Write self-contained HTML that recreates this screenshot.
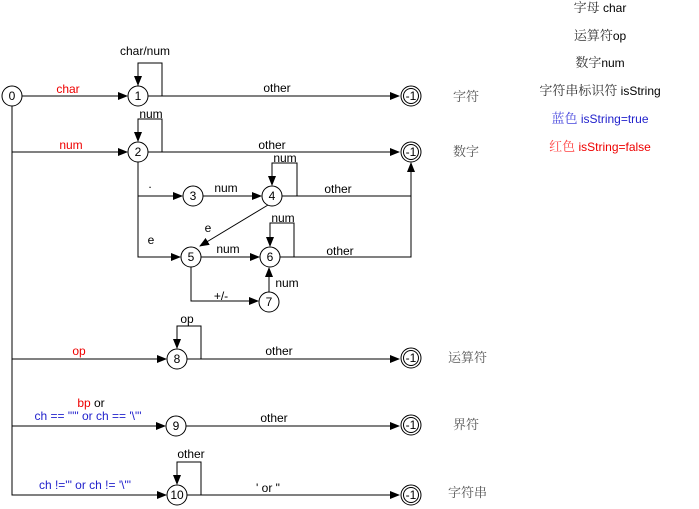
<!DOCTYPE html>
<html><head><meta charset="utf-8"><style>
html,body{margin:0;padding:0;background:#fff;width:699px;height:509px;overflow:hidden}
svg{display:block;font-family:"Liberation Sans","Noto Sans CJK SC",sans-serif;font-size:12px}
.c{fill:#fff;stroke:#000;stroke-width:1}
.l{fill:none;stroke:#000;stroke-width:1}
.cjk{font-family:"Noto Serif CJK SC","Noto Sans CJK SC",serif;fill:#555;font-size:13px}
</style></head><body>
<svg width="699" height="509">
<defs><marker id="a" markerWidth="10" markerHeight="8" refX="9" refY="4" orient="auto" markerUnits="userSpaceOnUse"><path d="M0,0 L10,4 L0,8 z" fill="#000"/></marker></defs>
<g>
<path class="l" d="M12,106 V495 H166" marker-end="url(#a)"/>
<path class="l" d="M22,96 H127" marker-end="url(#a)"/>
<path class="l" d="M12,152 H127" marker-end="url(#a)"/>
<path class="l" d="M12,359 H166" marker-end="url(#a)"/>
<path class="l" d="M12,426 H165" marker-end="url(#a)"/>
<path class="l" d="M148,96 H399" marker-end="url(#a)"/>
<path class="l" d="M148,152 H399" marker-end="url(#a)"/>
<path class="l" d="M187,359 H399" marker-end="url(#a)"/>
<path class="l" d="M186,426 H399" marker-end="url(#a)"/>
<path class="l" d="M187,495 H399" marker-end="url(#a)"/>
<path class="l" d="M138,87 V63 H162 V96" marker-end="url(#a)" style="marker-end:none"/>
<path class="l" d="M162,96 V63 H138 V85" marker-end="url(#a)"/>
<path class="l" d="M162,152 V119 H138 V141" marker-end="url(#a)"/>
<path class="l" d="M138,162 V196 H182" marker-end="url(#a)"/>
<path class="l" d="M138,196 V257 H180" marker-end="url(#a)"/>
<path class="l" d="M203,196 H261" marker-end="url(#a)"/>
<path class="l" d="M297,196 V163 H272 V185" marker-end="url(#a)"/>
<path class="l" d="M282,196 H411 V163" marker-end="url(#a)"/>
<path class="l" d="M268,205 L200,246" marker-end="url(#a)"/>
<path class="l" d="M201,257 H259" marker-end="url(#a)"/>
<path class="l" d="M294,257 V223 H270 V246" marker-end="url(#a)"/>
<path class="l" d="M280,257 H411 V196"/>
<path class="l" d="M191,267 V301 H258" marker-end="url(#a)"/>
<path class="l" d="M269,292 V268" marker-end="url(#a)"/>
<path class="l" d="M201,359 V326 H177 V348" marker-end="url(#a)"/>
<path class="l" d="M201,495 V462 H177 V484" marker-end="url(#a)"/>
</g>
<g text-anchor="middle">
<circle class="c" cx="12" cy="96" r="10"/><text x="12" y="100">0</text>
<circle class="c" cx="138" cy="96" r="10"/><text x="138" y="100">1</text>
<circle class="c" cx="138" cy="152" r="10"/><text x="138" y="156">2</text>
<circle class="c" cx="193" cy="196" r="10"/><text x="193" y="200">3</text>
<circle class="c" cx="272" cy="196" r="10"/><text x="272" y="200">4</text>
<circle class="c" cx="191" cy="257" r="10"/><text x="191" y="261">5</text>
<circle class="c" cx="270" cy="257" r="10"/><text x="270" y="261">6</text>
<circle class="c" cx="269" cy="302" r="10"/><text x="269" y="306">7</text>
<circle class="c" cx="177" cy="359" r="10"/><text x="177" y="363">8</text>
<circle class="c" cx="176" cy="426" r="10"/><text x="176" y="430">9</text>
<circle class="c" cx="177" cy="495" r="10"/><text x="177" y="499">10</text>
<g>
<circle class="c" cx="411" cy="96" r="10"/><circle class="c" cx="411" cy="96" r="7.5"/><text x="411" y="100">-1</text>
<circle class="c" cx="411" cy="152" r="10"/><circle class="c" cx="411" cy="152" r="7.5"/><text x="411" y="156">-1</text>
<circle class="c" cx="411" cy="358" r="10"/><circle class="c" cx="411" cy="358" r="7.5"/><text x="411" y="362">-1</text>
<circle class="c" cx="411" cy="425" r="10"/><circle class="c" cx="411" cy="425" r="7.5"/><text x="411" y="429">-1</text>
<circle class="c" cx="411" cy="495" r="10"/><circle class="c" cx="411" cy="495" r="7.5"/><text x="411" y="499">-1</text>
</g>
</g>
<g text-anchor="middle">
<text x="68" y="93" fill="#e00">char</text>
<text x="71" y="149" fill="#e00">num</text>
<text x="79" y="355" fill="#e00">op</text>
<text x="91" y="407"><tspan fill="#e00">bp</tspan> or</text>
<text x="88" y="420" fill="#22c">ch == "'" or ch == '\"'</text>
<text x="85" y="489" fill="#22c">ch !='" or ch != '\"'</text>
<text x="145" y="55">char/num</text>
<text x="151" y="118">num</text>
<text x="277" y="92">other</text>
<text x="272" y="149">other</text>
<text x="150" y="188">.</text>
<text x="226" y="192">num</text>
<text x="285" y="162">num</text>
<text x="338" y="193">other</text>
<text x="208" y="232">e</text>
<text x="151" y="244">e</text>
<text x="228" y="253">num</text>
<text x="283" y="222">num</text>
<text x="340" y="255">other</text>
<text x="221" y="300">+/-</text>
<text x="287" y="287">num</text>
<text x="187" y="323">op</text>
<text x="279" y="355">other</text>
<text x="274" y="422">other</text>
<text x="191" y="458">other</text>
<text x="268" y="492">' or "</text>
</g>
<g>
<text class="cjk" x="453" y="101">字符</text>
<text class="cjk" x="453" y="156">数字</text>
<text class="cjk" x="448" y="362">运算符</text>
<text class="cjk" x="453" y="429">界符</text>
<text class="cjk" x="448" y="497">字符串</text>
</g>
<g text-anchor="middle">
<text x="600" y="12"><tspan class="cjk" style="fill:#333">字母</tspan> char</text>
<text x="600" y="40"><tspan class="cjk" style="fill:#333">运算符</tspan>op</text>
<text x="600" y="67"><tspan class="cjk" style="fill:#333">数字</tspan>num</text>
<text x="600" y="95"><tspan class="cjk" style="fill:#333">字符串标识符</tspan>  isString</text>
<text x="600" y="123" fill="#22c"><tspan class="cjk" style="fill:#44d">蓝色</tspan> isString=true</text>
<text x="600" y="151" fill="#e00"><tspan class="cjk" style="fill:#f44">红色</tspan> isString=false</text>
</g>
</svg>
</body></html>
